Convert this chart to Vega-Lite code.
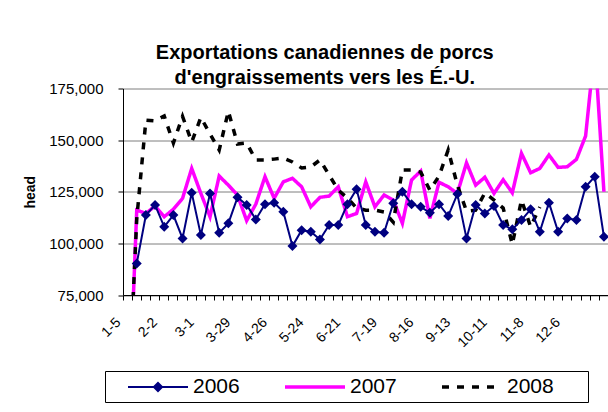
{
  "$schema": "https://vega.github.io/schema/vega-lite/v6.json",
  "width": 485.5,
  "height": 206.5,
  "autosize": "none",
  "padding": {"left": 123, "top": 88.5, "right": 0, "bottom": 117},
  "background": "white",
  "config": {"view": {"stroke": null}, "font": "Liberation Sans"},
  "title": {
    "text": ["Exportations canadiennes de porcs", "d'engraissements vers les É.-U."],
    "font": "Liberation Sans", "fontSize": 20, "fontWeight": "bold", "color": "black",
    "anchor": "middle", "frame": "group", "dx": -41, "dy": 26, "offset": 0,
    "lineHeight": 24.5, "baseline": "bottom"
  },
  "data": {"values": [
    {"idx":2,"week":"1-12","year":"2006","value":90300},
    {"idx":3,"week":"1-19","year":"2006","value":113700},
    {"idx":4,"week":"1-26","year":"2006","value":118600},
    {"idx":5,"week":"2-2","year":"2006","value":108000},
    {"idx":6,"week":"2-9","year":"2006","value":113700},
    {"idx":7,"week":"2-16","year":"2006","value":102400},
    {"idx":8,"week":"2-23","year":"2006","value":124500},
    {"idx":9,"week":"3-1","year":"2006","value":104000},
    {"idx":10,"week":"3-8","year":"2006","value":124200},
    {"idx":11,"week":"3-15","year":"2006","value":105100},
    {"idx":12,"week":"3-22","year":"2006","value":109700},
    {"idx":13,"week":"3-29","year":"2006","value":122300},
    {"idx":14,"week":"4-5","year":"2006","value":118600},
    {"idx":15,"week":"4-12","year":"2006","value":111600},
    {"idx":16,"week":"4-19","year":"2006","value":119000},
    {"idx":17,"week":"4-26","year":"2006","value":119700},
    {"idx":18,"week":"5-3","year":"2006","value":115300},
    {"idx":19,"week":"5-10","year":"2006","value":98700},
    {"idx":20,"week":"5-17","year":"2006","value":106400},
    {"idx":21,"week":"5-24","year":"2006","value":105600},
    {"idx":22,"week":"5-31","year":"2006","value":101900},
    {"idx":23,"week":"6-7","year":"2006","value":108900},
    {"idx":24,"week":"6-14","year":"2006","value":108900},
    {"idx":25,"week":"6-21","year":"2006","value":119000},
    {"idx":26,"week":"6-28","year":"2006","value":126200},
    {"idx":27,"week":"7-5","year":"2006","value":108900},
    {"idx":28,"week":"7-12","year":"2006","value":105600},
    {"idx":29,"week":"7-19","year":"2006","value":105100},
    {"idx":30,"week":"7-26","year":"2006","value":119400},
    {"idx":31,"week":"8-2","year":"2006","value":125000},
    {"idx":32,"week":"8-9","year":"2006","value":119000},
    {"idx":33,"week":"8-16","year":"2006","value":117700},
    {"idx":34,"week":"8-23","year":"2006","value":114800},
    {"idx":35,"week":"8-30","year":"2006","value":119000},
    {"idx":36,"week":"9-6","year":"2006","value":113200},
    {"idx":37,"week":"9-13","year":"2006","value":123900},
    {"idx":38,"week":"9-20","year":"2006","value":102400},
    {"idx":39,"week":"9-27","year":"2006","value":118600},
    {"idx":40,"week":"10-4","year":"2006","value":114500},
    {"idx":41,"week":"10-11","year":"2006","value":118100},
    {"idx":42,"week":"10-18","year":"2006","value":108900},
    {"idx":43,"week":"10-25","year":"2006","value":106800},
    {"idx":44,"week":"11-1","year":"2006","value":111300},
    {"idx":45,"week":"11-8","year":"2006","value":116500},
    {"idx":46,"week":"11-15","year":"2006","value":105600},
    {"idx":47,"week":"11-22","year":"2006","value":119700},
    {"idx":48,"week":"11-29","year":"2006","value":105600},
    {"idx":49,"week":"12-6","year":"2006","value":112100},
    {"idx":50,"week":"12-13","year":"2006","value":111300},
    {"idx":51,"week":"12-20","year":"2006","value":127400},
    {"idx":52,"week":"12-27","year":"2006","value":132300},
    {"idx":53,"week":"1-3","year":"2006","value":103200},

    {"idx":1,"week":"1-5","year":"2007","value":2000},
    {"idx":2,"week":"1-12","year":"2007","value":116100},
    {"idx":3,"week":"1-19","year":"2007","value":114500},
    {"idx":4,"week":"1-26","year":"2007","value":118100},
    {"idx":5,"week":"2-2","year":"2007","value":112900},
    {"idx":6,"week":"2-9","year":"2007","value":116500},
    {"idx":7,"week":"2-16","year":"2007","value":121800},
    {"idx":8,"week":"2-23","year":"2007","value":136300},
    {"idx":9,"week":"3-1","year":"2007","value":124200},
    {"idx":10,"week":"3-8","year":"2007","value":112900},
    {"idx":11,"week":"3-15","year":"2007","value":132600},
    {"idx":12,"week":"3-22","year":"2007","value":128200},
    {"idx":13,"week":"3-29","year":"2007","value":123400},
    {"idx":14,"week":"4-5","year":"2007","value":111000},
    {"idx":15,"week":"4-12","year":"2007","value":119000},
    {"idx":16,"week":"4-19","year":"2007","value":132300},
    {"idx":17,"week":"4-26","year":"2007","value":121800},
    {"idx":18,"week":"5-3","year":"2007","value":129800},
    {"idx":19,"week":"5-10","year":"2007","value":131500},
    {"idx":20,"week":"5-17","year":"2007","value":127400},
    {"idx":21,"week":"5-24","year":"2007","value":117700},
    {"idx":22,"week":"5-31","year":"2007","value":122300},
    {"idx":23,"week":"6-7","year":"2007","value":122900},
    {"idx":24,"week":"6-14","year":"2007","value":127400},
    {"idx":25,"week":"6-21","year":"2007","value":112900},
    {"idx":26,"week":"6-28","year":"2007","value":114500},
    {"idx":27,"week":"7-5","year":"2007","value":129800},
    {"idx":28,"week":"7-12","year":"2007","value":117700},
    {"idx":29,"week":"7-19","year":"2007","value":123400},
    {"idx":30,"week":"7-26","year":"2007","value":121000},
    {"idx":31,"week":"8-2","year":"2007","value":109700},
    {"idx":32,"week":"8-9","year":"2007","value":130700},
    {"idx":33,"week":"8-16","year":"2007","value":135000},
    {"idx":34,"week":"8-23","year":"2007","value":112100},
    {"idx":35,"week":"8-30","year":"2007","value":129600},
    {"idx":36,"week":"9-6","year":"2007","value":127400},
    {"idx":37,"week":"9-13","year":"2007","value":124200},
    {"idx":38,"week":"9-20","year":"2007","value":139000},
    {"idx":39,"week":"9-27","year":"2007","value":128200},
    {"idx":40,"week":"10-4","year":"2007","value":132000},
    {"idx":41,"week":"10-11","year":"2007","value":124200},
    {"idx":42,"week":"10-18","year":"2007","value":130800},
    {"idx":43,"week":"10-25","year":"2007","value":124500},
    {"idx":44,"week":"11-1","year":"2007","value":143600},
    {"idx":45,"week":"11-8","year":"2007","value":134200},
    {"idx":46,"week":"11-15","year":"2007","value":136300},
    {"idx":47,"week":"11-22","year":"2007","value":142800},
    {"idx":48,"week":"11-29","year":"2007","value":136800},
    {"idx":49,"week":"12-6","year":"2007","value":137100},
    {"idx":50,"week":"12-13","year":"2007","value":140700},
    {"idx":51,"week":"12-20","year":"2007","value":152000},
    {"idx":52,"week":"12-27","year":"2007","value":195000},
    {"idx":53,"week":"1-3","year":"2007","value":125000},

    {"idx":1,"week":"1-5","year":"2008","value":15000},
    {"idx":2,"week":"1-12","year":"2008","value":111800},
    {"idx":3,"week":"1-19","year":"2008","value":159700},
    {"idx":4,"week":"1-26","year":"2008","value":159300},
    {"idx":5,"week":"2-2","year":"2008","value":161700},
    {"idx":6,"week":"2-9","year":"2008","value":148600},
    {"idx":7,"week":"2-16","year":"2008","value":161500},
    {"idx":8,"week":"2-23","year":"2008","value":149100},
    {"idx":9,"week":"3-1","year":"2008","value":161000},
    {"idx":10,"week":"3-8","year":"2008","value":153000},
    {"idx":11,"week":"3-15","year":"2008","value":145200},
    {"idx":12,"week":"3-22","year":"2008","value":164000},
    {"idx":13,"week":"3-29","year":"2008","value":148100},
    {"idx":14,"week":"4-5","year":"2008","value":148600},
    {"idx":15,"week":"4-12","year":"2008","value":140400},
    {"idx":16,"week":"4-19","year":"2008","value":140400},
    {"idx":17,"week":"4-26","year":"2008","value":140800},
    {"idx":18,"week":"5-3","year":"2008","value":141300},
    {"idx":19,"week":"5-10","year":"2008","value":139400},
    {"idx":20,"week":"5-17","year":"2008","value":136500},
    {"idx":21,"week":"5-24","year":"2008","value":137000},
    {"idx":22,"week":"5-31","year":"2008","value":140400},
    {"idx":23,"week":"6-7","year":"2008","value":133100},
    {"idx":24,"week":"6-14","year":"2008","value":125800},
    {"idx":25,"week":"6-21","year":"2008","value":122000},
    {"idx":26,"week":"6-28","year":"2008","value":117100},
    {"idx":27,"week":"7-5","year":"2008","value":116100},
    {"idx":28,"week":"7-12","year":"2008","value":116100},
    {"idx":29,"week":"7-19","year":"2008","value":115200},
    {"idx":30,"week":"7-26","year":"2008","value":110300},
    {"idx":31,"week":"8-2","year":"2008","value":135500},
    {"idx":32,"week":"8-9","year":"2008","value":135500},
    {"idx":33,"week":"8-16","year":"2008","value":134500},
    {"idx":34,"week":"8-23","year":"2008","value":125800},
    {"idx":35,"week":"8-30","year":"2008","value":132600},
    {"idx":36,"week":"9-6","year":"2008","value":145200},
    {"idx":37,"week":"9-13","year":"2008","value":128200},
    {"idx":38,"week":"9-20","year":"2008","value":115600},
    {"idx":39,"week":"9-27","year":"2008","value":116100},
    {"idx":40,"week":"10-4","year":"2008","value":124400},
    {"idx":41,"week":"10-11","year":"2008","value":121000},
    {"idx":42,"week":"10-18","year":"2008","value":117100},
    {"idx":43,"week":"10-25","year":"2008","value":99500},
    {"idx":44,"week":"11-1","year":"2008","value":121000},
    {"idx":45,"week":"11-8","year":"2008","value":108000},
    {"idx":46,"week":"11-15","year":"2008","value":117600}
  ]},
  "encoding": {
    "x": {
      "field": "week", "type": "ordinal", "bandPosition": 0.5,
      "scale": {"type": "band", "paddingInner": 0, "paddingOuter": 0,
        "domain": ["1-5","1-12","1-19","1-26","2-2","2-9","2-16","2-23","3-1","3-8","3-15","3-22","3-29","4-5","4-12","4-19","4-26","5-3","5-10","5-17","5-24","5-31","6-7","6-14","6-21","6-28","7-5","7-12","7-19","7-26","8-2","8-9","8-16","8-23","8-30","9-6","9-13","9-20","9-27","10-4","10-11","10-18","10-25","11-1","11-8","11-15","11-22","11-29","12-6","12-13","12-20","12-27","1-3"]},
      "axis": {
        "title": null, "grid": false, "bandPosition": 0,
        "domainColor": "black", "domainWidth": 1,
        "tickColor": "black", "tickSize": 5, "tickWidth": 1,
        "labelAngle": -45, "labelAlign": "right", "labelBaseline": "middle",
        "labelPadding": 20, "labelOffset": -9,
        "labelFont": "Liberation Sans", "labelFontSize": 14, "labelColor": "black",
        "labelOverlap": false, "labelFlush": false,
        "labelExpr": "indexof(['1-5','2-2','3-1','3-29','4-26','5-24','6-21','7-19','8-16','9-13','10-11','11-8','12-6'], datum.value) >= 0 ? datum.label : ''"
      }
    },
    "y": {
      "field": "value", "type": "quantitative",
      "scale": {"domain": [75000, 175000], "nice": false, "zero": false},
      "axis": {
        "title": "head", "titleFont": "Liberation Sans", "titleFontSize": 14, "titleFontWeight": "bold", "titleColor": "black",
        "titleX": -93, "titleY": 103.25, "titleAngle": 270, "titleAlign": "center", "titleBaseline": "middle",
        "values": [75000, 100000, 125000, 150000, 175000], "format": ",.0f",
        "grid": true, "gridColor": "#7f7f7f", "gridWidth": 1,
        "domainColor": "black", "tickColor": "black", "tickSize": 5,
        "labelFont": "Liberation Sans", "labelFontSize": 15, "labelColor": "black", "labelPadding": 15
      }
    },
    "order": {"field": "idx", "type": "quantitative"}
  },
  "layer": [
    {
      "transform": [{"filter": "datum.year !== '2006'"}],
      "mark": {"type": "line", "clip": true, "strokeWidth": 3.5},
      "encoding": {
        "color": {"field": "year", "type": "nominal",
          "scale": {"domain": ["2006","2007","2008"], "range": ["#000080","#FF00FF","#000000"]},
          "legend": {
            "orient": "none", "legendX": -18, "legendY": 282.5, "direction": "horizontal",
            "title": null, "strokeColor": "black", "fillColor": "white", "padding": 5,
            "symbolType": "stroke", "symbolSize": 324, "symbolStrokeWidth": 3.5,
            "labelFont": "Liberation Sans", "labelFontSize": 21, "labelColor": "black",
            "labelOffset": 61, "columnPadding": 27,
            "encode": {"symbols": {"update": {
              "shape": {"signal": "datum.value === '2006' ? 'M0.778,-0.111L7.444,-0.111L7.444,0.111L0.778,0.111ZM3.5,0L4.111,-0.611L4.722,0L4.111,0.611Z' : (datum.value === '2008' ? 'M0.778,0L7.444,0M15.6,0' : 'M0.778,0L7.444,0')"},
              "fill": {"signal": "datum.value === '2006' ? '#000080' : 'transparent'"},
              "strokeOpacity": {"signal": "datum.value === '2006' ? 0 : 1"},
              "strokeDash": {"signal": "datum.value === '2008' ? [8,14] : [1,0]"}
            }}}
          }
        },
        "strokeDash": {"field": "year", "type": "nominal",
          "scale": {"domain": ["2006","2007","2008"], "range": [[1,0],[1,0],[7,8]]},
          "legend": null
        }
      }
    },
    {
      "transform": [{"filter": "datum.year === '2006'"}],
      "mark": {"type": "line", "clip": true, "strokeWidth": 2},
      "encoding": {
        "color": {"field": "year", "type": "nominal"}
      }
    },
    {
      "transform": [{"filter": "datum.year === '2006'"}],
      "mark": {"type": "point", "shape": "diamond", "filled": true, "size": 100, "opacity": 1, "clip": true, "color": "#000080"},
      "encoding": {}
    }
  ]
}
